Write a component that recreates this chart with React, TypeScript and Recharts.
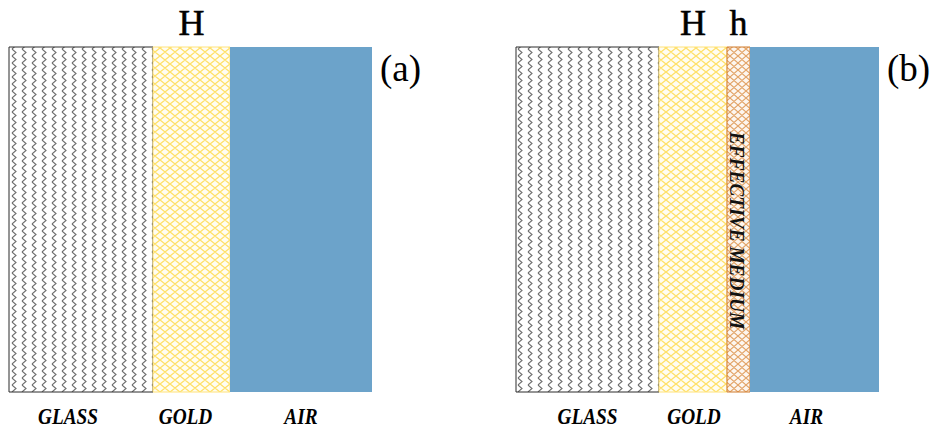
import { BarChart, Bar, XAxis, YAxis, LabelList } from "recharts";

// layer thicknesses (drawing units) and labels for each panel
const panelTags = ["(a)", "(b)"];
const layerNamesA = ["GLASS", "GOLD", "AIR"];
const layerWidthsA = [144, 77, 142];
const topLabelsA = ["", "H", ""];
const layerNamesB = ["GLASS", "GOLD", "EFFECTIVE MEDIUM", "AIR"];
const layerWidthsB = [143, 68, 23, 129];
const topLabelsB = ["", "H", "h", ""];

// small horizontal nudges of the layer captions (px), as in the original figure
const captionShiftA = [-13, -6, 0];
const captionShiftB = [0, 1, 0, -8];

const SERIF = "'Liberation Serif', 'DejaVu Serif', serif";

const layerStyle: Record<string, { fill: string; stroke: string }> = {
  GLASS: { fill: "url(#glassPat)", stroke: "#2a2a2a" },
  GOLD: { fill: "url(#goldPat)", stroke: "#ffe27a" },
  "EFFECTIVE MEDIUM": { fill: "url(#mediumPat)", stroke: "#d07a2a" },
  AIR: { fill: "#6ca3ca", stroke: "none" },
};

function Patterns() {
  return (
    <defs>
      <pattern id="glassPat" width="10" height="7" patternUnits="userSpaceOnUse">
        <rect width="10" height="7" fill="#fff" />
        <path d="M2 0 L6 3.5 L2 7" stroke="#6e6e6e" strokeWidth="1.1" fill="none" />
      </pattern>
      <pattern id="goldPat" width="10" height="8" patternUnits="userSpaceOnUse">
        <rect width="10" height="8" fill="#fffdf2" />
        <path d="M0 0 L5 4 L10 0 M0 8 L5 4 L10 8" stroke="#ffe066" strokeWidth="1.3" fill="none" />
      </pattern>
      <pattern id="mediumPat" width="8" height="7" patternUnits="userSpaceOnUse">
        <rect width="8" height="7" fill="#fdf6ef" />
        <path d="M0 0 L4 3.5 L8 0 M0 7 L4 3.5 L8 7" stroke="#e2a366" strokeWidth="1.1" fill="none" />
      </pattern>
    </defs>
  );
}

function Panel({
  tag,
  names,
  widths,
  tops,
  shifts,
  margin,
  width,
}: {
  tag: string;
  names: string[];
  widths: number[];
  tops: string[];
  shifts: number[];
  margin: { top: number; right: number; bottom: number; left: number };
  width: number;
}) {
  const row: Record<string, number | string> = { name: tag };
  widths.forEach((w, i) => (row["l" + i] = w));
  const total = widths.reduce((a, b) => a + b, 0);

  return (
    <BarChart
      width={width}
      height={430}
      data={[row]}
      layout="vertical"
      margin={margin}
      barCategoryGap={0}
    >
      <Patterns />
      <XAxis type="number" domain={[0, total]} hide />
      <YAxis type="category" dataKey="name" hide />
      {names.map((n, i) => (
        <Bar
          key={n}
          dataKey={"l" + i}
          stackId="s"
          fill={layerStyle[n].fill}
          stroke={layerStyle[n].stroke}
          strokeWidth={1}
          isAnimationActive={false}
        >
          <LabelList
            dataKey={"l" + i}
            content={(p: any) => {
              const x = Number(p.x);
              const y = Number(p.y);
              const w = Number(p.width);
              const h = Number(p.height);
              const cx = x + w / 2;
              const isMedium = n === "EFFECTIVE MEDIUM";
              const my = y + h / 2 + 11;
              return (
                <g>
                  {tops[i] && (
                    <text
                      x={cx}
                      y={y - 12}
                      textAnchor="middle"
                      fontFamily={SERIF}
                      fontSize={36}
                      fill="#000"
                      stroke="#000"
                      strokeWidth={0.5}
                    >
                      {tops[i]}
                    </text>
                  )}
                  {isMedium ? (
                    <text
                      x={0}
                      y={0}
                      transform={`translate(${cx - 1} ${my}) rotate(90) scale(0.88 1)`}
                      textAnchor="middle"
                      dominantBaseline="central"
                      fontFamily={SERIF}
                      fontWeight="bold"
                      fontStyle="italic"
                      fontSize={22}
                      fill="#111"
                    >
                      {n}
                    </text>
                  ) : (
                    <text
                      x={0}
                      y={0}
                      transform={`translate(${cx + shifts[i]} ${y + h + 32}) scale(0.84 1)`}
                      textAnchor="middle"
                      fontFamily={SERIF}
                      fontWeight="bold"
                      fontStyle="italic"
                      fontSize={23}
                      fill="#000"
                    >
                      {n}
                    </text>
                  )}
                  {i === names.length - 1 && (
                    <text x={x + w + 8} y={y + 34} fontFamily={SERIF} fontSize={37} fill="#000">
                      {tag}
                    </text>
                  )}
                </g>
              );
            }}
          />
        </Bar>
      ))}
    </BarChart>
  );
}

export default function App() {
  return (
    <div style={{ position: "absolute", left: 0, top: 0, width: 933, height: 430, display: "flex", background: "#fff" }}>
      <Panel
        tag={panelTags[0]}
        names={layerNamesA}
        widths={layerWidthsA}
        tops={topLabelsA}
        shifts={captionShiftA}
        width={466}
        margin={{ top: 47, right: 94, bottom: 38, left: 9 }}
      />
      <Panel
        tag={panelTags[1]}
        names={layerNamesB}
        widths={layerWidthsB}
        tops={topLabelsB}
        shifts={captionShiftB}
        width={467}
        margin={{ top: 47, right: 54, bottom: 38, left: 50 }}
      />
    </div>
  );
}
